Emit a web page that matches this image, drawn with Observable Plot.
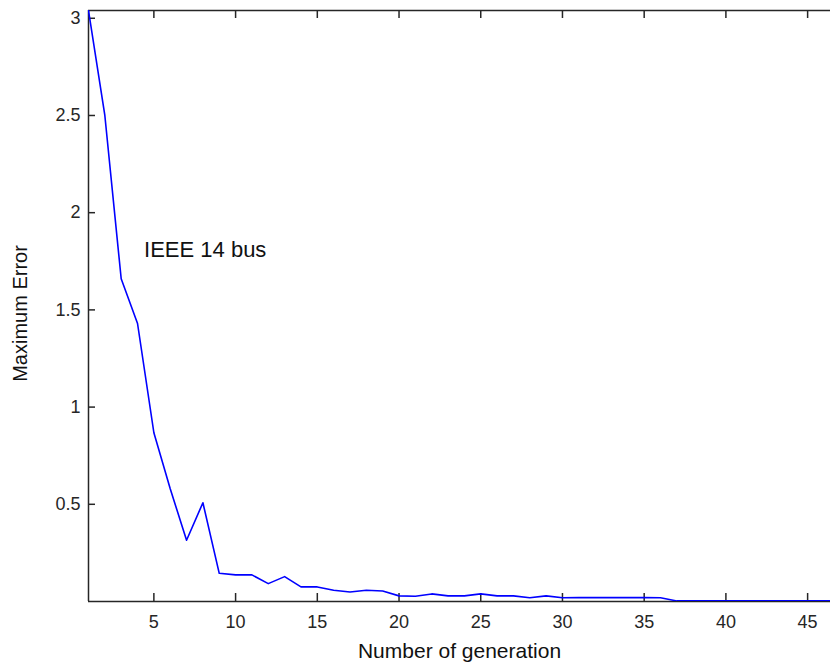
<!DOCTYPE html>
<html><head><meta charset="utf-8">
<script src="https://cdn.jsdelivr.net/npm/d3@7"></script>
<script src="https://cdn.jsdelivr.net/npm/@observablehq/plot@0.6"></script>
<style>body{margin:0;background:#fff;}</style>
</head><body><div id="chart"></div>
<script>
const generations = [1,2,3,4,5,6,7,8,9,10,11,12,13,14,15,16,17,18,19,20,21,22,23,24,25,26,27,28,29,30,31,32,33,34,35,36,37,38,39,40,41,42,43,44,45,46,47];
const maxError = [3.04,2.50,1.66,1.43,0.868,0.58,0.315,0.508,0.145,0.137,0.137,0.092,0.128,0.075,0.075,0.058,0.049,0.058,0.054,0.029,0.027,0.039,0.029,0.029,0.039,0.029,0.029,0.019,0.029,0.019,0.02,0.02,0.02,0.02,0.02,0.019,0.003,0.003,0.003,0.003,0.003,0.003,0.003,0.003,0.003,0.003,0.003];
const xTicks = [5,10,15,20,25,30,35,40,45];
const yTicks = [0.5,1,1.5,2,2.5,3];
const xLabel = "Number of generation";
const yLabel = "Maximum Error";
const annotation = "IEEE 14 bus";
const annotationAt = [4.4, 1.807];
const xDomain = [1, 46.4];
const yDomain = [0, 3.04];

const data = generations.map((g, i) => ({g, e: maxError[i]}));
const axisColor = "#262626";

const plot = Plot.plot({
  width: 830, height: 667,
  marginLeft: 88, marginRight: 0, marginTop: 10, marginBottom: 66,
  style: {fontFamily: "'Liberation Sans', Arial, sans-serif", fontSize: "18px", color: axisColor, background: "white"},
  x: {domain: xDomain},
  y: {domain: yDomain},
  marks: [
    Plot.ruleY([yDomain[0]], {stroke: axisColor, strokeWidth: 1.5}),
    Plot.ruleY([yDomain[1]], {stroke: axisColor, strokeWidth: 1.5}),
    Plot.ruleX([xDomain[0]], {stroke: axisColor, strokeWidth: 1.5}),
    Plot.axisX(xTicks, {anchor: "bottom", tickSize: -8, tickPadding: 22, label: null, strokeWidth: 1.5, fontSize: 18}),
    Plot.axisX(xTicks, {anchor: "top", tickSize: -7, tickFormat: () => "", label: null, strokeWidth: 1.5}),
    Plot.axisY(yTicks, {anchor: "left", tickSize: -7, tickPadding: 15, label: null, strokeWidth: 1.5, fontSize: 18, tickFormat: d => String(d)}),
    Plot.line(data, {x: "g", y: "e", stroke: "#0000ff", strokeWidth: 1.6, clip: true}),
    Plot.text([annotation], {x: annotationAt[0], y: annotationAt[1], text: d => d, textAnchor: "start", fontSize: 22, fill: "#111"}),
    Plot.text([xLabel], {frameAnchor: "bottom", text: d => d, textAnchor: "middle", lineAnchor: "bottom", dy: 56, fontSize: 21, fill: "#111"}),
    Plot.text([yLabel], {frameAnchor: "left", text: d => d, textAnchor: "middle", rotate: -90, dx: -68, dy: 7.5, fontSize: 20, fill: "#111"})
  ]
});
document.getElementById("chart").appendChild(plot);
</script>
</body></html>
